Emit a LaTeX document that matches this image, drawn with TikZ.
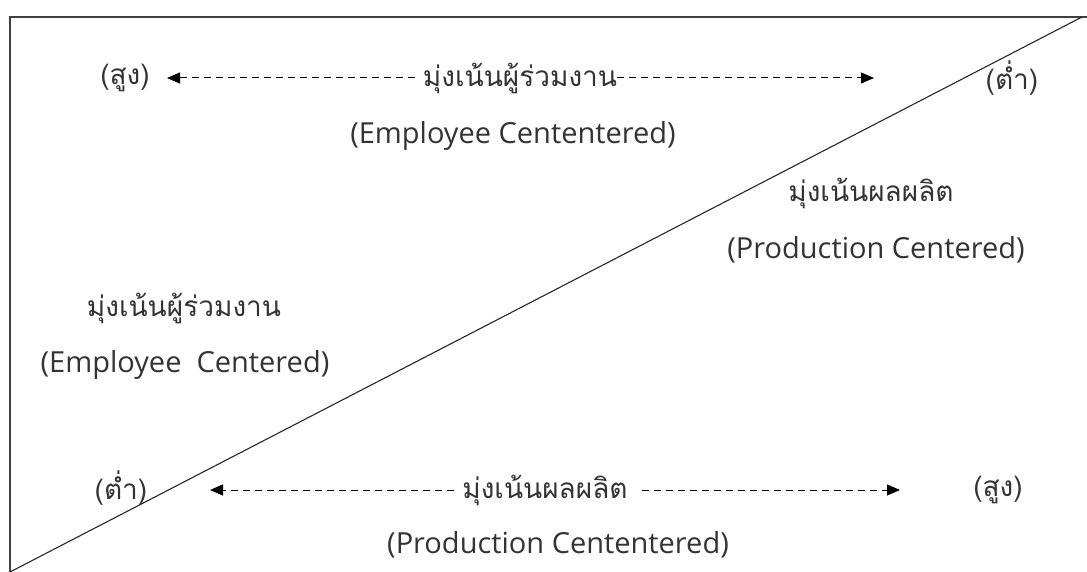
\documentclass[tikz,border=0pt]{standalone}
\usepackage{fontspec}
\setmainfont[Script=Thai]{Loma}
\newfontfamily\latinfont{Open Sans}
\usetikzlibrary{arrows.meta}
\begin{document}
\begin{tikzpicture}[x=1pt,y=-1pt,
  lbl/.style={font=\fontsize{28}{32}\selectfont, text=black!80, inner sep=0pt, anchor=center},
  en/.style={font=\latinfont\fontsize{29}{33}\selectfont, text=black!80, inner sep=0pt, anchor=center},
  frame/.style={line width=1.3pt, draw=black!75},
  dasharrow/.style={dash pattern=on 7pt off 5pt, line width=1pt, -{Triangle[length=13pt,width=11pt]}}]
\useasboundingbox (0,0) rectangle (1087,572);
% frame
\coordinate (bl) at (10,572);
\coordinate (tl) at (10,17);
\coordinate (tr) at (1087,17);
\coordinate (dtr) at (1082,17);
\draw[frame] (bl) -- (tl) -- (tr);
\draw[line width=1.1pt, draw=black!85] (bl) -- (dtr);
% top row
\node[lbl] (hiTop) at (125,78) {(สูง)};
\node[lbl] (loTop) at (1012,78) {(ต่ำ)};
\node[lbl, inner xsep=8pt] (empTop) at (520,78) {มุ่งเน้นผู้ร่วมงาน};
\coordinate (aTopL) at (167,78);
\coordinate (aTopR) at (874,78);
\draw[dasharrow] (empTop.west) -- (aTopL);
\draw[dasharrow] ([xshift=-8pt]empTop.east) -- (aTopR);
\node[en] (empTopEn) at (513,136) {(Employee Cententered)};
% right middle
\node[lbl] (prodR) at (871,193) {มุ่งเน้นผลผลิต};
\node[en] (prodREn) at (876,250) {(Production Centered)};
% left middle
\node[lbl] (empL) at (184,308) {มุ่งเน้นผู้ร่วมงาน};
\node[en] (empLEn) at (185,365) {(Employee\ \ Centered)};
% bottom row
\node[lbl] (loBot) at (121,488) {(ต่ำ)};
\node[lbl] (hiBot) at (998,490) {(สูง)};
\node[lbl, inner xsep=8pt] (prodBot) at (545,490) {มุ่งเน้นผลผลิต};
\coordinate (aBotL) at (210,490);
\coordinate (aBotR) at (900,490);
\draw[dasharrow] (prodBot.west) -- (aBotL);
\draw[dasharrow] ([xshift=6pt]prodBot.east) -- (aBotR);
\node[en] (prodBotEn) at (558,545) {(Production Cententered)};
\end{tikzpicture}
\end{document}
